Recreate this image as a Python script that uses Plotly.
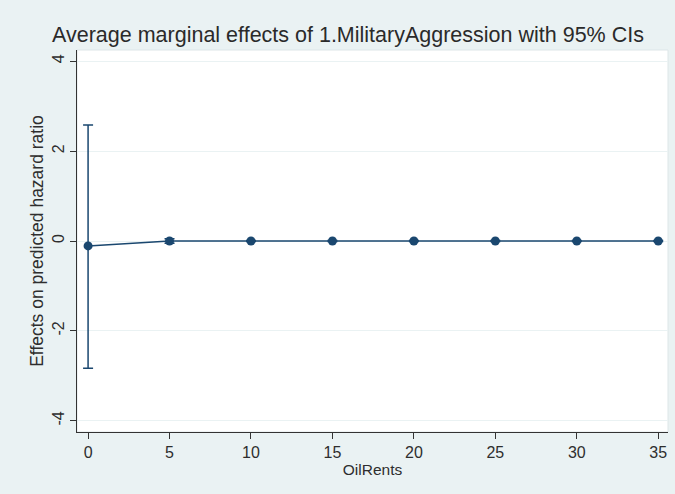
import plotly.graph_objects as go

oil_rents = [0, 5, 10, 15, 20, 25, 30, 35]
effects = [-0.11, 0.0, 0.0, 0.0, 0.0, 0.0, 0.0, 0.0]
ci_upper = [2.58, 0.05, 0.01, 0.01, 0.01, 0.01, 0.01, 0.01]
ci_lower = [-2.83, -0.05, -0.01, -0.01, -0.01, -0.01, -0.01, -0.01]

x_ticks = [0, 5, 10, 15, 20, 25, 30, 35]
y_ticks = [-4, -2, 0, 2, 4]
y_tick_labels = ["-4", "-2", "0", "2", "4"]

navy = "#1a476f"
bg = "#eaf2f3"

fig = go.Figure()
fig.add_trace(go.Scatter(
    x=oil_rents, y=effects, mode="lines+markers",
    line=dict(color=navy, width=1.5),
    marker=dict(color=navy, size=9, symbol="circle"),
    error_y=dict(type="data", symmetric=False,
                 array=[u - e for u, e in zip(ci_upper, effects)],
                 arrayminus=[e - l for l, e in zip(ci_lower, effects)],
                 color=navy, thickness=1.5, width=5),
    showlegend=False,
))

fig.update_layout(
    width=675, height=494,
    paper_bgcolor=bg, plot_bgcolor="white",
    margin=dict(l=77, r=7, t=50, b=62, autoexpand=False),
    font=dict(family="Liberation Sans, Arial, sans-serif", color="#2e2e2e"),
    title=dict(text="Average marginal effects of 1.MilitaryAggression with 95% CIs",
               x=348 / 675, xanchor="center", y=1 - 34 / 494, yanchor="middle",
               font=dict(size=21.5, color="#2a2a2a")),
    xaxis=dict(range=[-0.68, 35.6], tickvals=x_ticks, ticks="outside", ticklen=6,
               tickcolor="#333", showline=True, linecolor="#333", linewidth=1,
               showgrid=False, zeroline=False, automargin=False,
               tickfont=dict(size=16),
               title=dict(text="OilRents", font=dict(size=15.5), standoff=3)),
    yaxis=dict(range=[-4.25, 4.25], tickvals=y_ticks, ticktext=y_tick_labels,
               ticks="outside", ticklen=6,
               tickcolor="#333", showline=True, linecolor="#333", linewidth=1,
               showgrid=True, gridcolor=bg, gridwidth=1, zeroline=False,
               automargin=False,
               tickangle=-90, tickfont=dict(size=16),
               title=dict(text="Effects on predicted hazard ratio", font=dict(size=17.5), standoff=1)),
)
fig.add_shape(type="rect", xref="paper", yref="paper", x0=0, x1=1, y0=0, y1=1,
              line=dict(color="#dde6e8", width=1), layer="below")

fig.write_html("out.html", config={"displayModeBar": False},
               post_script="document.body.style.margin='0';")
